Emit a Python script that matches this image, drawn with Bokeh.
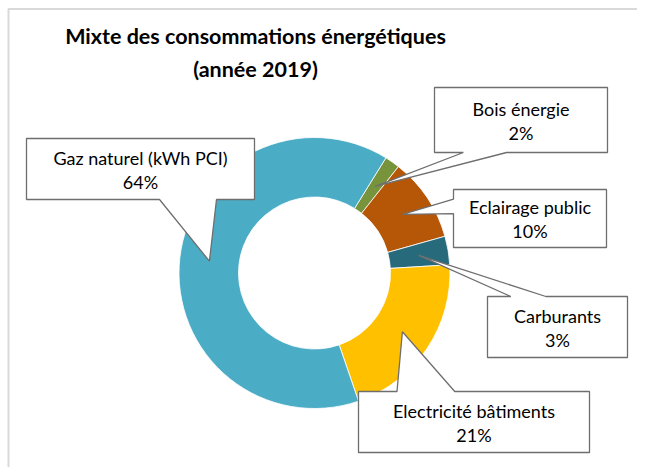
import math
from bokeh.plotting import figure
from bokeh.models import Range1d, ColumnDataSource
from bokeh.core.properties import value
from bokeh.embed import file_html
from bokeh.resources import INLINE

# ---- data (clockwise order, starting from the first slice) ----
categories = ["Bois énergie", "Eclairage public", "Carburants", "Electricité bâtiments", "Gaz naturel (kWh PCI)"]
shares = [1.8, 10.0, 3.4, 20.7, 64.1]
colors = ["#77933C", "#B65708", "#276A7C", "#FFC000", "#4BACC6"]
title_lines = ["Mixte des consommations énergétiques", "(année 2019)"]

# ---- layout (picture pixel coordinates) ----
W, H = 637, 467
first_slice_angle = 31.8          # degrees, clockwise from 12 o'clock
cx, cy = 314, 272.5
r_out, r_in = 135.5, 76
# callout boxes: left, top, right, bottom
boxes = [
    (434, 87, 607, 152),
    (453, 189, 606, 247),
    (487, 296, 627, 357),
    (358, 391, 589, 452),
    (26, 138, 254, 199),
]

def fy(py):
    return H - py

p = figure(width=W, height=H, output_backend="svg", toolbar_location=None,
           x_range=Range1d(0, W), y_range=Range1d(0, H), min_border=0)
p.axis.visible = False
p.grid.visible = False
p.outline_line_color = None
p.background_fill_color = "white"
p.border_fill_color = "white"

# chart border (top and left visible)
p.line(x=[8, 8, W], y=[fy(H), fy(8.5), fy(8.5)], line_color="#D9D9D9", line_width=2)

# slices
total = sum(shares)
starts, ends, mids = [], [], []
acc = first_slice_angle
for v in shares:
    a0 = acc
    a1 = acc + v / total * 360.0
    starts.append(math.radians(90 - a0))
    ends.append(math.radians(90 - a1))
    mids.append((a0 + a1) / 2)
    acc = a1

src = ColumnDataSource(dict(start=starts, end=ends, color=colors))
p.annular_wedge(x=cx, y=fy(cy), inner_radius=r_in, outer_radius=r_out,
                start_angle="start", end_angle="end", direction="clock",
                fill_color="color", line_color="white", line_width=0.8, source=src)

# callouts
r_mid = (r_in + r_out) / 2
xs, ys = [], []
for (L, T, R, B), m in zip(boxes, mids):
    tx = cx + r_mid * math.sin(math.radians(m))
    ty = cy - r_mid * math.cos(math.radians(m))
    w, h = R - L, B - T
    bcx, bcy = (L + R) / 2, (T + B) / 2
    dx, dy = (tx - bcx) / w, (ty - bcy) / h
    if abs(dx) > abs(dy):
        lo, hi = (2 / 12, 5 / 12) if ty < bcy else (7 / 12, 10 / 12)
        if dx < 0:
            pts = [(L, T), (R, T), (R, B), (L, B), (L, T + hi * h), (tx, ty), (L, T + lo * h)]
        else:
            pts = [(L, T), (R, T), (R, T + lo * h), (tx, ty), (R, T + hi * h), (R, B), (L, B)]
    else:
        lo, hi = (2 / 12, 5 / 12) if tx < bcx else (7 / 12, 10 / 12)
        if dy < 0:
            pts = [(L, T), (L + lo * w, T), (tx, ty), (L + hi * w, T), (R, T), (R, B), (L, B)]
        else:
            pts = [(L, T), (R, T), (R, B), (L + hi * w, B), (tx, ty), (L + lo * w, B), (L, B)]
    xs.append([q[0] for q in pts])
    ys.append([fy(q[1]) for q in pts])

p.patches(xs=xs, ys=ys, fill_color="white", line_color="#6E6E6E", line_width=1.3)

# callout texts
lx = [(b[0] + b[2]) / 2 for b in boxes]
ly1 = [fy((b[1] + b[3]) / 2 - 11.5) for b in boxes]
ly2 = [fy((b[1] + b[3]) / 2 + 12.5) for b in boxes]
pct = [f"{round(v / total * 100)}%" for v in shares]
p.text(x=lx, y=ly1, text=categories, text_font=value("Lato"), text_font_size="18px",
       text_align="center", text_baseline="middle", text_color="#000000")
p.text(x=lx, y=ly2, text=pct, text_font=value("Lato"), text_font_size="18px",
       text_align="center", text_baseline="middle", text_color="#000000")

# title
p.text(x=[255, 255], y=[fy(35), fy(68)], text=title_lines, text_font=value("Lato"),
       text_font_size="21.5px", text_font_style="bold", text_align="center",
       text_baseline="middle", text_color="#000000")

open("out.html", "w").write(file_html(p, INLINE))
